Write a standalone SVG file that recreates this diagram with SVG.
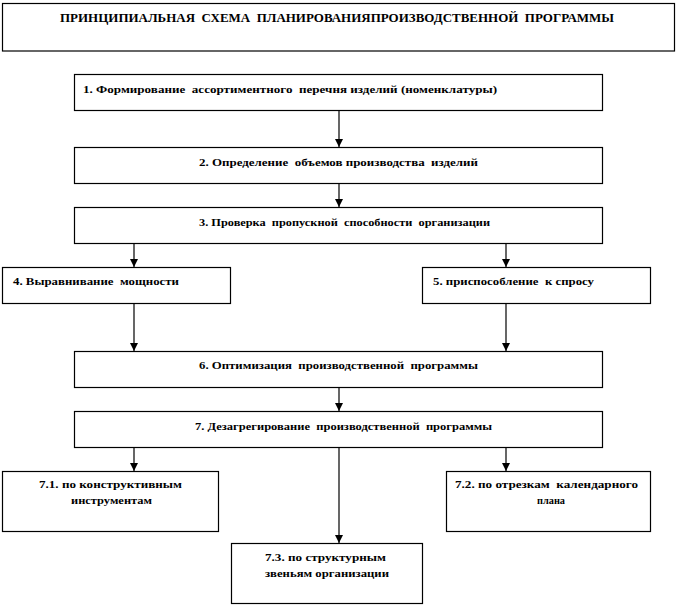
<svg xmlns="http://www.w3.org/2000/svg" width="678" height="606" viewBox="0 0 678 606">
<style>
rect{fill:#fff;stroke:#000;stroke-width:1.2}
text{font-family:'Liberation Serif','DejaVu Serif',serif;font-weight:700;font-size:11px;fill:#000;white-space:pre}
#connectors line{stroke:#000;stroke-width:1.2}
</style>
<defs>
<marker id="ah" viewBox="0 0 8 8" refX="8" refY="4" markerWidth="8" markerHeight="8" markerUnits="userSpaceOnUse" orient="auto">
<path d="M0,0 L8,4 L0,8 Z" fill="#000"/>
</marker>
</defs>
<rect x="0" y="0" width="678" height="606" style="stroke:none"/>
<g id="title"><rect x="2.5" y="3.5" width="672" height="47.5"/><text x="60" y="22" textLength="554" lengthAdjust="spacingAndGlyphs" style="font-size:11.5px">ПРИНЦИПИАЛЬНАЯ  СХЕМА  ПЛАНИРОВАНИЯПРОИЗВОДСТВЕННОЙ  ПРОГРАММЫ</text></g>
<g id="n1"><rect x="74.5" y="74.5" width="528" height="36"/><text x="83" y="93" textLength="414" lengthAdjust="spacingAndGlyphs">1. Формирование  ассортиментного  перечня изделий (номенклатуры)</text></g>
<g id="n2"><rect x="74.5" y="147.5" width="528" height="36"/><text x="199" y="166" textLength="279" lengthAdjust="spacingAndGlyphs">2. Определение  объемов производства  изделий</text></g>
<g id="n3"><rect x="74.5" y="207.5" width="528" height="36"/><text x="199" y="226" textLength="291" lengthAdjust="spacingAndGlyphs">3. Проверка  пропускной  способности  организации</text></g>
<g id="n4"><rect x="2.5" y="267.5" width="228" height="36"/><text x="13" y="285" textLength="166" lengthAdjust="spacingAndGlyphs">4. Выравнивание  мощности</text></g>
<g id="n5"><rect x="422.5" y="267.5" width="228" height="36"/><text x="433" y="285" textLength="161" lengthAdjust="spacingAndGlyphs">5. приспособление  к спросу</text></g>
<g id="n6"><rect x="74.5" y="351.5" width="528" height="36"/><text x="199" y="369" textLength="279" lengthAdjust="spacingAndGlyphs">6. Оптимизация  производственной  программы</text></g>
<g id="n7"><rect x="74.5" y="411.5" width="528" height="36"/><text x="195" y="430" textLength="297" lengthAdjust="spacingAndGlyphs">7. Дезагрегирование  производственной  программы</text></g>
<g id="n71"><rect x="2.5" y="471.5" width="216" height="60"/><text x="39" y="488" textLength="143" lengthAdjust="spacingAndGlyphs">7.1. по конструктивным</text><text x="71" y="504" textLength="81" lengthAdjust="spacingAndGlyphs">инструментам</text></g>
<g id="n72"><rect x="446.5" y="471.5" width="204" height="60"/><text x="455" y="488" textLength="183" lengthAdjust="spacingAndGlyphs">7.2. по отрезкам  календарного</text><text x="537" y="504" textLength="28" lengthAdjust="spacingAndGlyphs">плана</text></g>
<g id="n73"><rect x="231.5" y="543.5" width="191" height="60"/><text x="265" y="561" textLength="121" lengthAdjust="spacingAndGlyphs">7.3. по структурным</text><text x="265" y="577" textLength="124" lengthAdjust="spacingAndGlyphs">звеньям организации</text></g>
<g id="connectors">
<line x1="339" y1="111" x2="339" y2="147" marker-end="url(#ah)"/>
<line x1="339" y1="184" x2="339" y2="207" marker-end="url(#ah)"/>
<line x1="134" y1="244" x2="134" y2="267" marker-end="url(#ah)"/>
<line x1="506" y1="244" x2="506" y2="267" marker-end="url(#ah)"/>
<line x1="134" y1="304" x2="134" y2="351" marker-end="url(#ah)"/>
<line x1="506" y1="304" x2="506" y2="351" marker-end="url(#ah)"/>
<line x1="339" y1="388" x2="339" y2="411" marker-end="url(#ah)"/>
<line x1="134" y1="448" x2="134" y2="471" marker-end="url(#ah)"/>
<line x1="506" y1="448" x2="506" y2="471" marker-end="url(#ah)"/>
<line x1="339" y1="448" x2="339" y2="543" marker-end="url(#ah)"/>
</g>
</svg>
